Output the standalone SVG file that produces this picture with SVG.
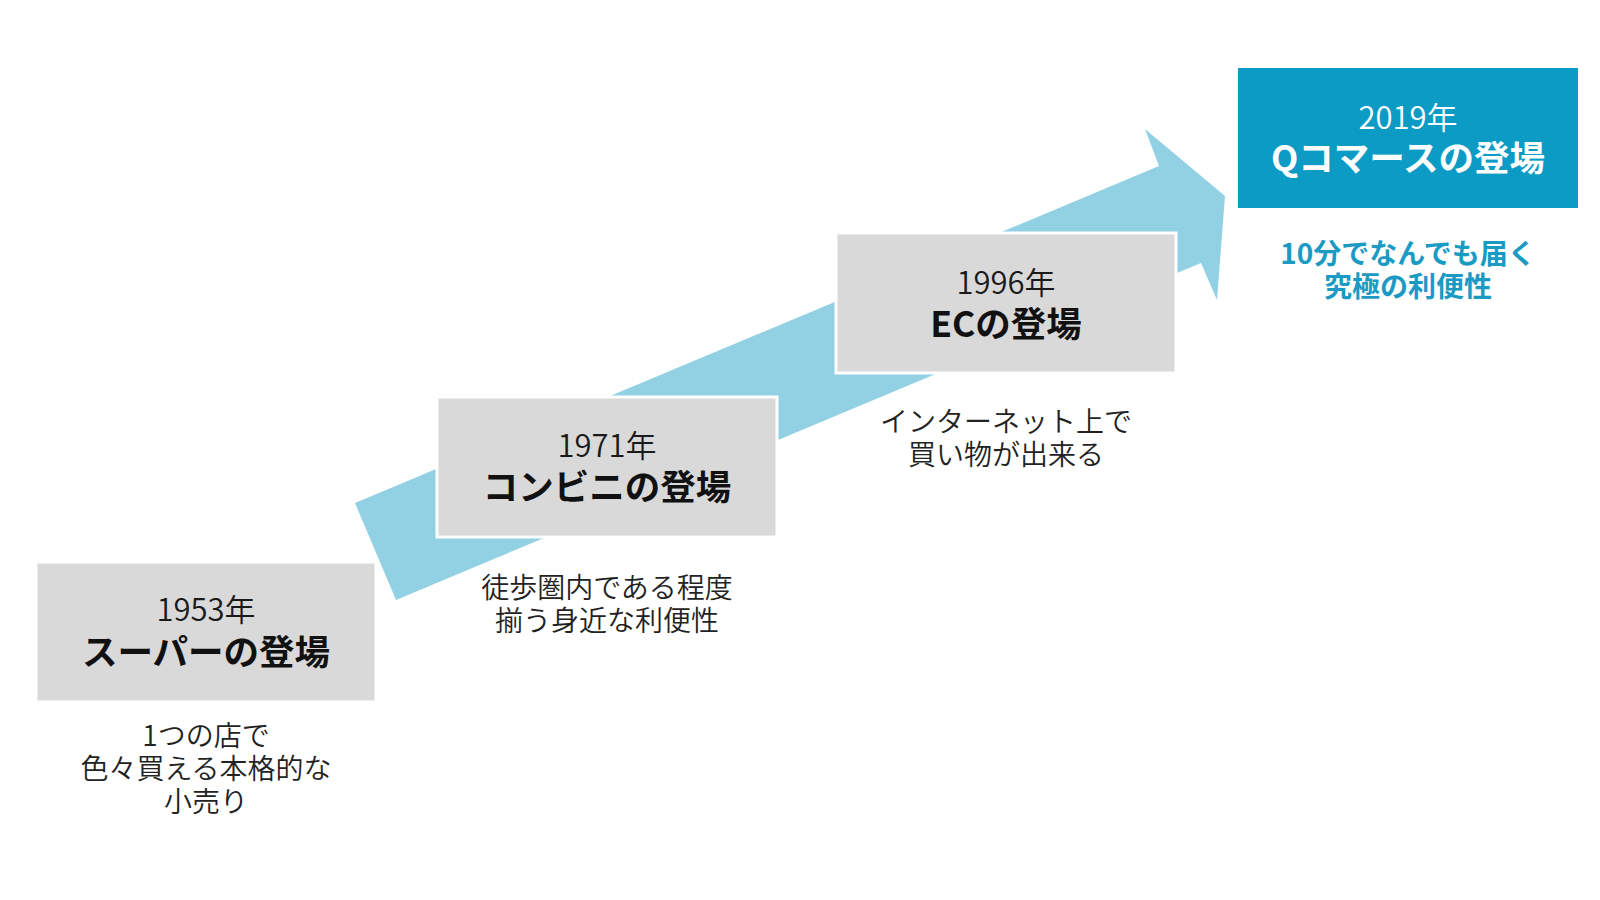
<svg xmlns="http://www.w3.org/2000/svg" width="1600" height="900" viewBox="0 0 1600 900">
<style>
  text { font-family: "Noto Sans CJK JP", "Noto Sans", sans-serif; text-anchor: middle; }
  .box { fill: #d9d9d9; stroke: #ffffff; stroke-width: 3; }
  .qbox { fill: #0b9bc5; }
  .year { font-size: 31px; font-weight: 350; fill: #1a1a1a; }
  .title { font-size: 35.5px; font-weight: 700; fill: #111111; }
  .desc { font-size: 28px; font-weight: 350; fill: #222222; }
  .qyear { font-size: 31px; font-weight: 350; fill: #ffffff; }
  .qtitle { font-size: 35.5px; font-weight: 700; fill: #ffffff; }
  .qdesc { font-size: 28px; font-weight: 700; fill: #1b9ac4; }
</style>
<rect width="1600" height="900" fill="#ffffff"/>
<g id="connectors">
  <polygon points="355,503 1159,166 1145,129 1225,196 1217,300 1201,263 396,600" fill="#92d1e3"/>
</g>
<g id="node-1953">
  <rect class="box" x="36" y="562" width="340" height="140"/>
  <text class="year" x="206" y="621">1953年</text>
  <text class="title" x="206" y="665">スーパーの登場</text>
  <text class="desc" x="206" y="746">1つの店で</text>
  <text class="desc" x="206" y="779">色々買える本格的な</text>
  <text class="desc" x="206" y="812">小売り</text>
</g>
<g id="node-1971">
  <rect class="box" x="437" y="397" width="340" height="140"/>
  <text class="year" x="607" y="457">1971年</text>
  <text class="title" x="607" y="500">コンビニの登場</text>
  <text class="desc" x="607" y="598">徒歩圏内である程度</text>
  <text class="desc" x="607" y="631">揃う身近な利便性</text>
</g>
<g id="node-1996">
  <rect class="box" x="836" y="233" width="340" height="140"/>
  <text class="year" x="1006" y="294">1996年</text>
  <text class="title" x="1006" y="337">ECの登場</text>
  <text class="desc" x="1006" y="432">インターネット上で</text>
  <text class="desc" x="1006" y="465">買い物が出来る</text>
</g>
<g id="node-2019">
  <rect class="qbox" x="1238" y="68" width="340" height="140"/>
  <text class="qyear" x="1408" y="129">2019年</text>
  <text class="qtitle" x="1408" y="171">Qコマースの登場</text>
  <text class="qdesc" x="1408" y="264">10分でなんでも届く</text>
  <text class="qdesc" x="1408" y="297">究極の利便性</text>
</g>
</svg>
